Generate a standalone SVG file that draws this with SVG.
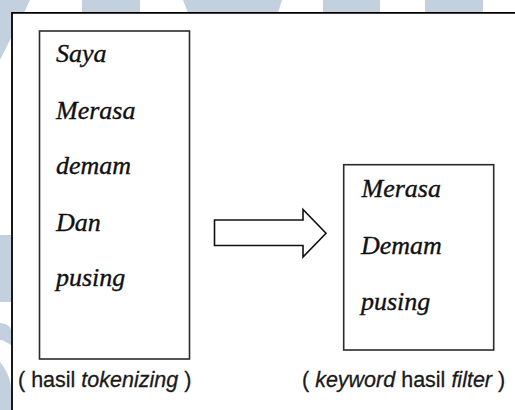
<svg xmlns="http://www.w3.org/2000/svg" width="515" height="410" viewBox="0 0 515 410">
<style>
.wm{fill:#c3d1de}
.box{fill:#fff;stroke:#2b2b2b;stroke-width:1.6}
.w{font-family:"Liberation Serif","Times New Roman",serif;font-style:italic;font-size:26px;fill:#111;stroke:#111;stroke-width:0.35}
.lab{font-family:"Liberation Sans",Arial,sans-serif;font-size:21.5px;fill:#1a1a1a;stroke:#1a1a1a;stroke-width:0.3}
.it{font-style:italic}
</style>
<rect width="515" height="410" fill="#fff"/>
<g id="watermark">
<polygon class="wm" points="0,0 30,0 24,13 0,13"/>
<rect class="wm" x="82" y="0" width="58" height="13"/>
<polygon class="wm" points="183,0 282,0 278,13 188,13"/>
<rect class="wm" x="323" y="0" width="57" height="13"/>
<rect class="wm" x="425" y="0" width="58" height="13"/>
<polygon class="wm" points="0,13 12,13 12,36 0,60"/>
<rect class="wm" x="0" y="235" width="11" height="67"/>
<path class="wm" d="M0,323 C5,323 11,326 11,330 L11,345 C6,342 3,340 0,340 Z"/>
<path class="wm" d="M0,362 C5,368 11,378 11,390 L11,410 L0,410 Z"/>
</g>
<path id="frame" d="M12,410 V12.8 H515" fill="none" stroke="#000" stroke-width="1.8"/>
<g id="tokenizing">
<rect class="box" x="39.5" y="31" width="150" height="328"/>
<text class="w" x="56" y="62">Saya</text>
<text class="w" x="56" y="119">Merasa</text>
<text class="w" x="56" y="174">demam</text>
<text class="w" x="56" y="231">Dan</text>
<text class="w" x="56" y="286">pusing</text>
<text class="lab" x="18" y="387">( hasil <tspan class="it">tokenizing</tspan> )</text>
</g>
<g id="filter">
<rect class="box" x="343.7" y="164.7" width="150" height="185.3"/>
<text class="w" x="361.5" y="197">Merasa</text>
<text class="w" x="361" y="254">Demam</text>
<text class="w" x="361" y="310">pusing</text>
<text class="lab" x="302" y="387">( <tspan class="it">keyword</tspan> hasil <tspan class="it">filter</tspan> )</text>
</g>
<g id="connectors">
<polygon points="214.5,220 303,220 303,209.5 326,233.3 303,257 303,245.5 214.5,245.5" fill="#fff" stroke="#111" stroke-width="1.6" stroke-linejoin="miter"/>
</g>
</svg>
